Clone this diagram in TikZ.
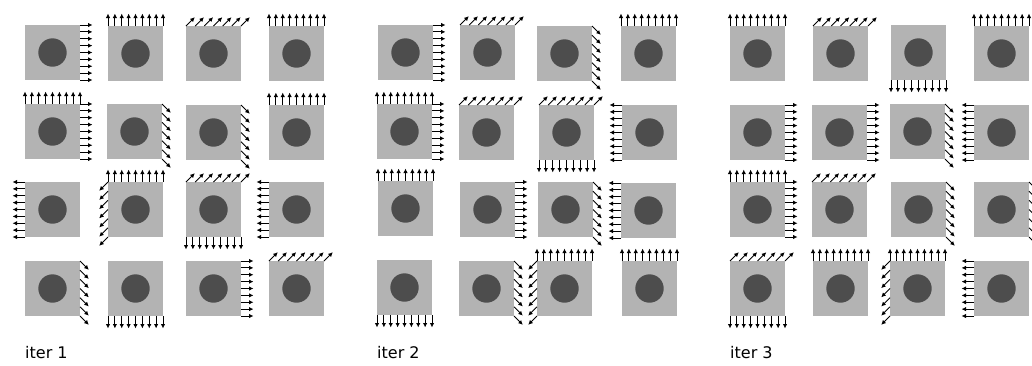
\documentclass[tikz,border=0pt]{standalone}
\usepackage{fontspec}
\setmainfont{DejaVu Sans}
\usetikzlibrary{arrows.meta,calc}
\definecolor{cellgray}{RGB}{179,179,179}
\definecolor{dotgray}{RGB}{77,77,77}
\tikzset{
  cell/.style={rectangle, fill=cellgray, minimum size=55pt, inner sep=0pt, outer sep=0pt, anchor=north west,
    path picture={\fill[dotgray] (path picture bounding box.center) circle (14.2pt);}},
  flow/.style={-{Latex[length=4.5pt,width=4.5pt]}, line width=0.9pt, black},
  itertext/.style={anchor=base west, inner sep=0pt, font=\fontsize{16}{19}\selectfont}
}
\newcommand{\flowN}[1]{\foreach \k in {0,...,8}{\draw[flow] ($(#1.north west)!\k/8!(#1.north east)$) -- ++(0pt,12.5pt);}}
\newcommand{\flowS}[1]{\foreach \k in {0,...,8}{\draw[flow] ($(#1.south west)!\k/8!(#1.south east)$) -- ++(0pt,-12.5pt);}}
\newcommand{\flowE}[1]{\foreach \k in {0,...,8}{\draw[flow] ($(#1.north east)!\k/8!(#1.south east)$) -- ++(12.5pt,0pt);}}
\newcommand{\flowW}[1]{\foreach \k in {0,...,8}{\draw[flow] ($(#1.north west)!\k/8!(#1.south west)$) -- ++(-12.5pt,0pt);}}
\newcommand{\flowNE}[1]{\foreach \k in {0,...,6}{\draw[flow] ($(#1.north west)!\k/6!(#1.north east)$) -- ++(8.8pt,8.8pt);}}
\newcommand{\flowSE}[1]{\foreach \k in {0,...,6}{\draw[flow] ($(#1.north east)!\k/6!(#1.south east)$) -- ++(8.8pt,-8.8pt);}}
\newcommand{\flowSW}[1]{\foreach \k in {0,...,6}{\draw[flow] ($(#1.north west)!\k/6!(#1.south west)$) -- ++(-8.8pt,-8.8pt);}}
\begin{document}
\begin{tikzpicture}[x=1pt,y=-1pt]
\useasboundingbox (0,0) rectangle (1032,365);
\clip (0,0) rectangle (1032,365);
% ---------- iter 1 ----------
\node[cell] (a11) at (25,25) {};
\node[cell] (a12) at (108,26) {};
\node[cell] (a13) at (186,26) {};
\node[cell] (a14) at (269,26) {};
\node[cell] (a21) at (25,104) {};
\node[cell] (a22) at (107,104) {};
\node[cell] (a23) at (186,105) {};
\node[cell] (a24) at (269,105) {};
\node[cell] (a31) at (25,182) {};
\node[cell] (a32) at (108,182) {};
\node[cell] (a33) at (186,182) {};
\node[cell] (a34) at (269,182) {};
\node[cell] (a41) at (25,261) {};
\node[cell] (a42) at (108,261) {};
\node[cell] (a43) at (186,261) {};
\node[cell] (a44) at (269,261) {};
\flowE{a11} \flowN{a12} \flowNE{a13} \flowN{a14}
\flowN{a21} \flowE{a21} \flowSE{a22} \flowSE{a23} \flowN{a24}
\flowW{a31} \flowN{a32} \flowSW{a32} \flowNE{a33} \flowS{a33} \flowW{a34}
\flowSE{a41} \flowS{a42} \flowE{a43} \flowNE{a44}
\node[itertext] (t1) at (25,358) {iter 1};
% ---------- iter 2 ----------
\node[cell] (b11) at (378,25) {};
\node[cell] (b12) at (460,25) {};
\node[cell] (b13) at (537,26) {};
\node[cell] (b14) at (621,26) {};
\node[cell] (b21) at (377,104) {};
\node[cell] (b22) at (459,105) {};
\node[cell] (b23) at (539,105) {};
\node[cell] (b24) at (622,105) {};
\node[cell] (b31) at (378,181) {};
\node[cell] (b32) at (460,182) {};
\node[cell] (b33) at (538,182) {};
\node[cell] (b34) at (621,183) {};
\node[cell] (b41) at (377,260) {};
\node[cell] (b42) at (459,261) {};
\node[cell] (b43) at (537,261) {};
\node[cell] (b44) at (622,261) {};
\flowE{b11} \flowNE{b12} \flowSE{b13} \flowN{b14}
\flowN{b21} \flowE{b21} \flowNE{b22} \flowNE{b23} \flowS{b23} \flowW{b24}
\flowN{b31} \flowE{b32} \flowSE{b33} \flowW{b34}
\flowS{b41} \flowSE{b42} \flowN{b43} \flowSW{b43} \flowN{b44}
\node[itertext] (t2) at (377,358) {iter 2};
% ---------- iter 3 ----------
\node[cell] (c11) at (730,26) {};
\node[cell] (c12) at (813,26) {};
\node[cell] (c13) at (891,25) {};
\node[cell] (c14) at (974,26) {};
\node[cell] (c21) at (730,105) {};
\node[cell] (c22) at (812,105) {};
\node[cell] (c23) at (890,104) {};
\node[cell] (c24) at (974,105) {};
\node[cell] (c31) at (730,182) {};
\node[cell] (c32) at (812,182) {};
\node[cell] (c33) at (891,182) {};
\node[cell] (c34) at (974,182) {};
\node[cell] (c41) at (730,261) {};
\node[cell] (c42) at (813,261) {};
\node[cell] (c43) at (890,261) {};
\node[cell] (c44) at (974,261) {};
\flowN{c11} \flowNE{c12} \flowS{c13} \flowN{c14}
\flowE{c21} \flowE{c22} \flowSE{c23} \flowW{c24}
\flowN{c31} \flowE{c31} \flowNE{c32} \flowSE{c33} \flowSE{c34}
\flowNE{c41} \flowS{c41} \flowN{c42} \flowN{c43} \flowSW{c43} \flowW{c44}
\node[itertext] (t3) at (730,358) {iter 3};
\end{tikzpicture}
\end{document}
